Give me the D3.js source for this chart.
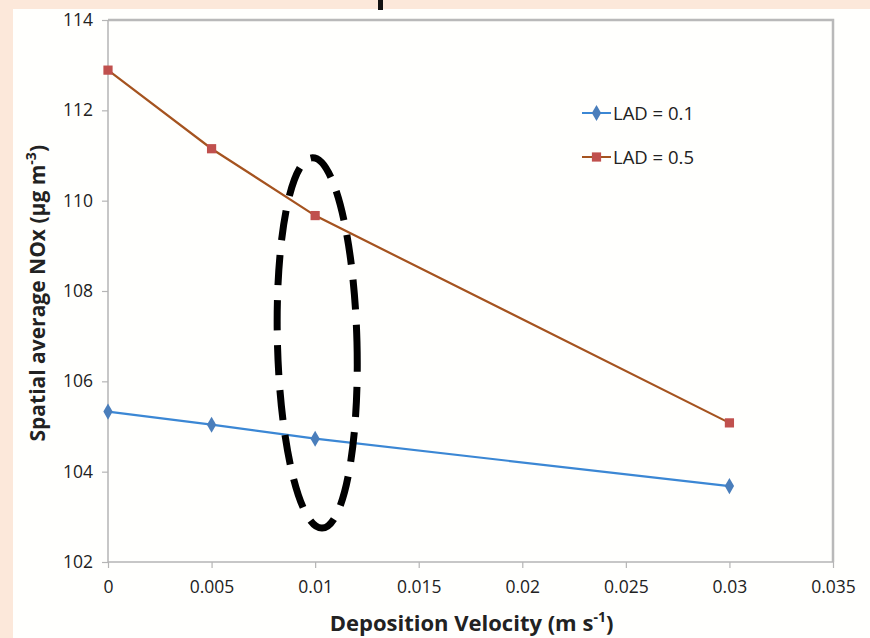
<!doctype html>
<html>
    <head>
        <script src="https://d3js.org/d3.v7.min.js"></script>
        <style>
          body { margin: 0; background: #fce8da; }
          svg { display: block; }
        </style>
    </head>
    <body>
        <script>
// chart data
var depVel = [0, 0.005, 0.01, 0.03];
var lad01 = [105.33, 105.04, 104.73, 103.68];
var lad05 = [112.89, 111.15, 109.67, 105.08];
var seriesNames = ["LAD = 0.1", "LAD = 0.5"];
var xTicks = [0, 0.005, 0.01, 0.015, 0.02, 0.025, 0.03, 0.035];
var yTicks = [102, 104, 106, 108, 110, 112, 114];
// dashed ring around the 0.01 column (data units)
var ringCenter = [0.0101, 106.85];
var ringRadius = [0.00192, 4.1];

var width = 870, height = 638;
var margin = {top: 20, right: 37, bottom: 76, left: 108},
    chartWidth = width - margin.left - margin.right,
    chartHeight = height - margin.top - margin.bottom;

var svg = d3.select("body")
  .append("svg")
    .attr("width", width)
    .attr("height", height);

// peach frame + white panel
svg.append("rect").attr("width", width).attr("height", height).attr("fill", "#fce8da");
svg.append("rect").attr("x", 13).attr("y", 9).attr("width", width - 13).attr("height", height - 9).attr("fill", "#fffffd");
// bit of the cut-off title
svg.append("rect").attr("x", 378).attr("y", 0).attr("width", 5).attr("height", 10).attr("fill", "#111");

var g = svg.append("g")
    .attr("transform", "translate(" + margin.left + "," + margin.top + ")");

var xScale = d3.scaleLinear().domain([0, 0.035]).range([0, chartWidth]);
var yScale = d3.scaleLinear().domain([102, 114]).range([chartHeight, 0]);

// plot area border (top and right)
g.append("path")
  .attr("d", "M0,0H" + chartWidth + "V" + chartHeight)
  .attr("fill", "none")
  .attr("stroke", "#b9b9b9")
  .attr("stroke-width", 2.5);

var x_axis = d3.axisBottom(xScale)
  .tickValues(xTicks)
  .tickSize(6)
  .tickPadding(13)
  .tickFormat(d => d === 0 ? "0" : d3.format("")(+d.toFixed(3)));

var y_axis = d3.axisLeft(yScale)
  .tickValues(yTicks)
  .tickSize(6)
  .tickPadding(9)
  .tickFormat(d3.format("d"));

var gx = g.append("g")
  .attr("transform", "translate(0," + chartHeight + ")")
  .call(x_axis);
var gy = g.append("g").call(y_axis);

[gx, gy].forEach(function(a) {
  a.select(".domain").attr("stroke", "#b5b5b5").attr("stroke-width", 1.5);
  a.selectAll(".tick line").attr("stroke", "#b5b5b5").attr("stroke-width", 1.2);
  a.selectAll(".tick text")
    .attr("fill", "#222")
    .style("font-family", "'Open Sans', sans-serif")
    .style("font-size", "17.5px");
});
gx.select(".domain").attr("d", "M0,0H" + chartWidth);
gy.select(".domain").attr("d", "M0," + chartHeight + "V0");

// axis titles
var xt = svg.append("text")
  .attr("x", margin.left + xScale(0.01755))
  .attr("y", 631)
  .attr("text-anchor", "middle")
  .style("font-family", "'Open Sans', sans-serif")
  .style("font-weight", "bold")
  .style("font-size", "22px")
  .attr("fill", "#222");
xt.append("tspan").text("Deposition Velocity (m s");
xt.append("tspan").attr("baseline-shift", "super").style("font-size", "14px").text("-1");
xt.append("tspan").text(")");

var yt = svg.append("text")
  .attr("transform", "translate(45," + (margin.top + yScale(107.95)) + ") rotate(-90)")
  .attr("text-anchor", "middle")
  .style("font-family", "'Open Sans', sans-serif")
  .style("font-weight", "bold")
  .style("font-size", "21px")
  .attr("fill", "#222");
yt.append("tspan").text("Spatial average NOx (µg m");
yt.append("tspan").attr("baseline-shift", "super").style("font-size", "14px").text("-3");
yt.append("tspan").text(")");

// series
var series = [
  {name: seriesNames[0], values: lad01, line: "#3b87d4", fill: "#4a7ebb", shape: d3.symbolDiamond, size: 75},
  {name: seriesNames[1], values: lad05, line: "#a5531f", fill: "#c0504d", shape: d3.symbolSquare, size: 85}
];

var line = d3.line()
  .x((d, i) => xScale(depVel[i]))
  .y(d => yScale(d));

series.forEach(function(s) {
  g.append("path")
    .datum(s.values)
    .attr("fill", "none")
    .attr("stroke", s.line)
    .attr("stroke-width", 2.2)
    .attr("d", line);

  g.selectAll(null)
    .data(s.values)
    .enter().append("path")
    .attr("transform", (d, i) => "translate(" + xScale(depVel[i]) + "," + yScale(d) + ")")
    .attr("d", d3.symbol().type(s.shape).size(s.size))
    .attr("fill", s.fill);
});

// legend
var legend = svg.append("g").attr("transform", "translate(582,113)");
series.forEach(function(s, i) {
  var row = legend.append("g").attr("transform", "translate(0," + (i * 44) + ")");
  row.append("line").attr("x1", 0).attr("x2", 29).attr("stroke", s.line).attr("stroke-width", 2);
  row.append("path")
    .attr("transform", "translate(14.5,0)")
    .attr("d", d3.symbol().type(s.shape).size(s.size))
    .attr("fill", s.fill);
  row.append("text")
    .attr("x", 31)
    .attr("y", 6.5)
    .style("font-family", "'Open Sans', sans-serif")
    .style("font-size", "18.5px")
    .attr("fill", "#222")
    .text(s.name);
});

// dashed ellipse annotation
var rx = xScale(ringRadius[0]) - xScale(0);
var ry = yScale(0) - yScale(ringRadius[1]);
g.append("ellipse")
  .attr("transform", "translate(" + xScale(ringCenter[0]) + "," + yScale(ringCenter[1]) + ") rotate(-1.5)")
  .attr("rx", rx)
  .attr("ry", ry)
  .attr("fill", "none")
  .attr("stroke", "#000")
  .attr("stroke-width", 7)
  .attr("stroke-dasharray", "30 15");
        </script>
    </body>
</html>
